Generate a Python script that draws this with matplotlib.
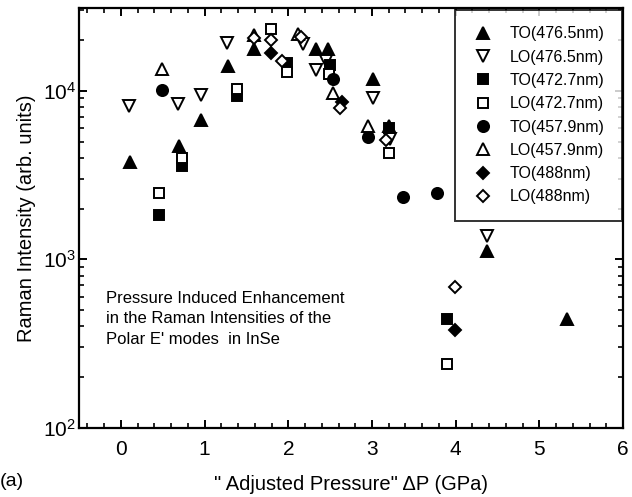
import math
import matplotlib
matplotlib.use('Agg')
import matplotlib.pyplot as plt
from matplotlib.ticker import LogLocator, MultipleLocator, FixedLocator, FuncFormatter, NullFormatter

plt.rcParams['font.family'] = ['Liberation Sans', 'DejaVu Sans']
plt.rcParams['mathtext.fontset'] = 'custom'
plt.rcParams['mathtext.rm'] = 'Liberation Sans'

# data: (pressure in GPa, intensity)
to_4765_x = [0.11, 0.69, 0.96, 1.28, 1.59, 2.33, 2.47, 3.01, 3.20, 4.37, 5.33]
to_4765_y = [3800, 4700, 6700, 14100, 17700, 17700, 17700, 11700, 6200, 1120, 445]
lo_4765_x = [0.10, 0.68, 0.96, 1.27, 2.18, 2.33, 2.45, 3.01, 3.22, 4.37]
lo_4765_y = [8100, 8400, 9500, 19200, 19000, 13300, 15000, 9050, 5200, 1370]
to_4727_x = [0.45, 0.73, 1.39, 1.98, 2.50, 3.20, 3.89]
to_4727_y = [1830, 3580, 9250, 14600, 14300, 6000, 440]
lo_4727_x = [0.45, 0.73, 1.39, 1.79, 1.99, 2.49, 3.20, 3.89]
lo_4727_y = [2460, 3980, 10200, 23300, 13000, 12600, 4300, 240]
to_4579_x = [0.49, 2.54, 2.95, 3.37, 3.78]
to_4579_y = [10100, 11800, 5350, 2350, 2490]
lo_4579_x = [0.49, 1.59, 2.12, 2.54, 2.95]
lo_4579_y = [13500, 21500, 21800, 9700, 6200]
to_488_x = [1.79, 2.64, 3.99]
to_488_y = [16800, 8600, 380]
lo_488_x = [1.59, 1.79, 1.93, 2.15, 2.62, 3.17, 3.99]
lo_488_y = [20500, 20100, 15100, 20800, 7900, 5100, 690]

series = [
    (to_4765_x, to_4765_y, '^', True, 9, 'TO(476.5nm)'),
    (lo_4765_x, lo_4765_y, 'v', False, 9, 'LO(476.5nm)'),
    (to_4727_x, to_4727_y, 's', True, 7, 'TO(472.7nm)'),
    (lo_4727_x, lo_4727_y, 's', False, 7, 'LO(472.7nm)'),
    (to_4579_x, to_4579_y, 'o', True, 8, 'TO(457.9nm)'),
    (lo_4579_x, lo_4579_y, '^', False, 9, 'LO(457.9nm)'),
    (to_488_x, to_488_y, 'D', True, 6.5, 'TO(488nm)'),
    (lo_488_x, lo_488_y, 'D', False, 6.5, 'LO(488nm)'),
]

fig = plt.figure(figsize=(6.32, 4.97), dpi=100)
ax = fig.add_axes([0.125, 0.139, 0.861, 0.845])

for xs, ys, m, filled, ms, lab in series:
    ax.plot(xs, ys, linestyle='none', marker=m, markersize=ms,
            markerfacecolor='black' if filled else 'white',
            markeredgecolor='black', markeredgewidth=1.4, label=lab)

ax.set_yscale('log')
ax.set_xlim(-0.5, 6.0)
ax.set_ylim(100, 3.1e4)

ax.xaxis.set_major_locator(MultipleLocator(1))
ax.xaxis.set_minor_locator(MultipleLocator(0.2))
ax.yaxis.set_major_locator(FixedLocator([1e2, 1e3, 1e4]))
ax.yaxis.set_minor_locator(LogLocator(base=10, subs=range(2, 10)))
ax.yaxis.set_minor_formatter(NullFormatter())
ax.yaxis.set_major_formatter(FuncFormatter(
    lambda v, p: r'$\mathregular{10^{%d}}$' % round(math.log10(v))))

ax.tick_params(which='both', direction='in', top=True, right=True, labelsize=15)
ax.tick_params(which='major', length=6, width=1.4)
ax.tick_params(which='minor', length=3.5, width=1.2)
ax.tick_params(axis='x', which='major', pad=9)
ax.tick_params(axis='y', which='major', pad=2)
for s in ax.spines.values():
    s.set_linewidth(1.6)

ax.set_xlabel('" Adjusted Pressure" \u0394P (GPa)', fontsize=14.5, labelpad=11)
ax.set_ylabel('Raman Intensity (arb. units)', fontsize=14.5, labelpad=5)

ax.text(0.05, 0.26, "Pressure Induced Enhancement\nin the Raman Intensities of the\nPolar E' modes  in InSe",
        transform=ax.transAxes, fontsize=12, linespacing=1.45, va='center', ha='left')

fig.text(0.0, 0.015, '(a)', fontsize=14, ha='left', va='bottom')

leg = ax.legend(loc='upper right', fontsize=11.5, frameon=True, fancybox=False,
                borderaxespad=0.1, borderpad=1.05, labelspacing=0.52,
                handlelength=1.4, handletextpad=1.0, numpoints=1)
leg.get_frame().set_edgecolor('black')
leg.get_frame().set_linewidth(1.4)

fig.savefig('out.png', dpi=100)
